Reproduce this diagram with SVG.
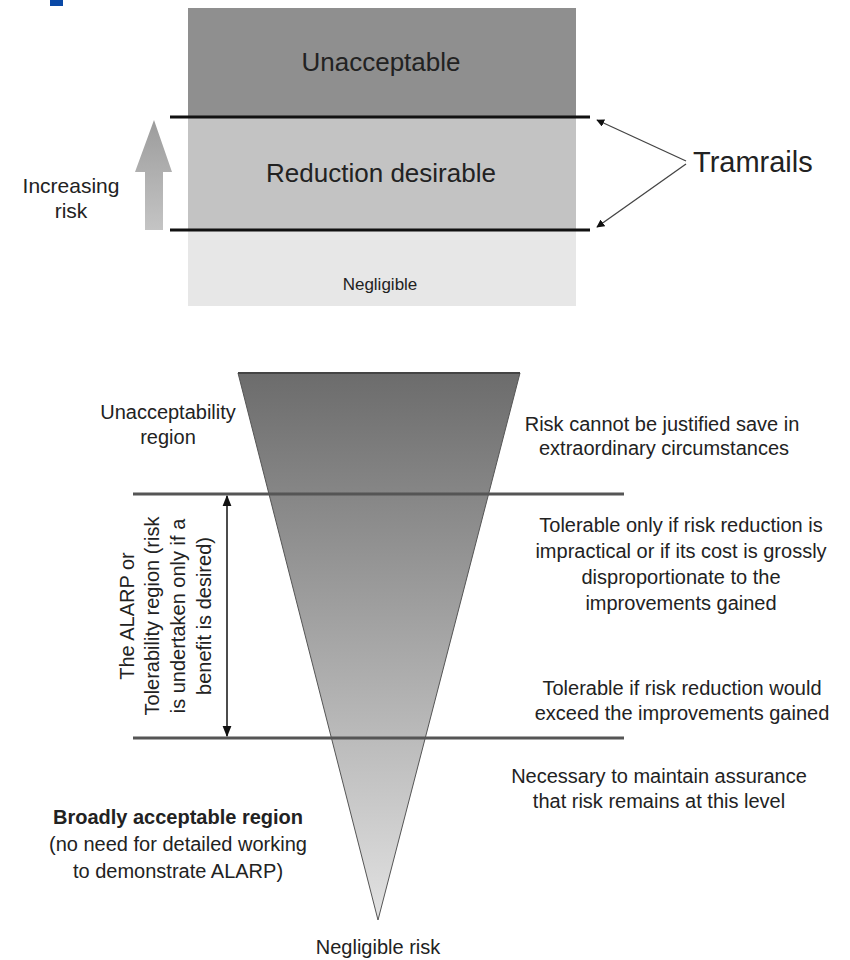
<svg xmlns="http://www.w3.org/2000/svg" width="850" height="960" viewBox="0 0 850 960">
<style>
text{font-family:"Liberation Sans",Arial,sans-serif;fill:#222;}
.b{font-size:20px;text-anchor:middle;}
.bb{font-size:20px;text-anchor:middle;font-weight:bold;}
.big{font-size:26px;text-anchor:middle;}
.rail{stroke:#111;stroke-width:3;fill:none;}
.hl{stroke:#555;stroke-width:3;fill:none;}
.conn{stroke:#444;stroke-width:1.3;fill:none;}
</style>
<defs>
<linearGradient id="tri" x1="0" y1="0" x2="0" y2="1">
<stop offset="0" stop-color="#6c6c6c"/>
<stop offset="1" stop-color="#e2e2e2"/>
</linearGradient>
<linearGradient id="arr" x1="0" y1="0" x2="0" y2="1">
<stop offset="0" stop-color="#9c9c9c"/>
<stop offset="1" stop-color="#c4c4c4"/>
</linearGradient>
<marker id="ah" viewBox="0 0 10 10" refX="9" refY="5" markerWidth="8" markerHeight="8" orient="auto-start-reverse" markerUnits="userSpaceOnUse">
<path d="M0,0 L10,5 L0,10 z" fill="#111"/>
</marker>
<marker id="ah2" viewBox="0 0 10 10" refX="9" refY="5" markerWidth="11" markerHeight="11" orient="auto-start-reverse" markerUnits="userSpaceOnUse">
<path d="M0,1 L10,5 L0,9 z" fill="#111"/>
</marker>
</defs>
<rect x="50" y="0" width="13" height="6" fill="#0a49a6"/>
<g id="band-unacceptable">
<rect x="188" y="8" width="388" height="109" fill="#8f8f8f"/>
<text class="big" x="381" y="71">Unacceptable</text>
</g>
<g id="band-reduction">
<rect x="188" y="117" width="388" height="113" fill="#c3c3c3"/>
<text class="big" x="381" y="182">Reduction desirable</text>
</g>
<g id="band-negligible">
<rect x="188" y="230" width="388" height="76" fill="#e7e7e7"/>
<text x="380" y="290" style="font-size:17px;text-anchor:middle;">Negligible</text>
</g>
<g id="increasing-risk">
<path d="M154,120 L172,172 L163,172 L163,230 L145,230 L145,172 L135,172 Z" fill="url(#arr)"/>
<text x="71" y="193" style="font-size:21px;text-anchor:middle;">Increasing</text>
<text x="71" y="218" style="font-size:21px;text-anchor:middle;">risk</text>
</g>
<g id="tramrails-label">
<text x="693" y="172" style="font-size:29px;">Tramrails</text>
</g>
<g id="triangle">
<polygon points="238,373 520,373 378,920" fill="url(#tri)" stroke="#555" stroke-width="1"/>
<line x1="238" y1="373" x2="520" y2="373" stroke="#444" stroke-width="2"/>
</g>
<g id="left-labels">
<text class="b" x="168" y="419">Unacceptability</text>
<text class="b" x="168" y="444">region</text>
<text class="bb" x="178" y="824">Broadly acceptable region</text>
<text class="b" x="178" y="851">(no need for detailed working</text>
<text class="b" x="178" y="878">to demonstrate ALARP)</text>
<text class="b" x="378" y="954">Negligible risk</text>
</g>
<g id="alarp-label">
<text class="b" transform="translate(134,616) rotate(-90)">The ALARP or</text>
<text class="b" transform="translate(159,616) rotate(-90)">Tolerability region (risk</text>
<text class="b" transform="translate(185,616) rotate(-90)">is undertaken only if a</text>
<text class="b" transform="translate(211,616) rotate(-90)">benefit is desired)</text>
</g>
<g id="right-labels">
<text class="b" x="662" y="431">Risk cannot be justified save in</text>
<text class="b" x="664" y="455">extraordinary circumstances</text>
<text class="b" x="681" y="532">Tolerable only if risk reduction is</text>
<text class="b" x="681" y="558">impractical or if its cost is grossly</text>
<text class="b" x="681" y="584">disproportionate to the</text>
<text class="b" x="681" y="610">improvements gained</text>
<text class="b" x="682" y="695">Tolerable if risk reduction would</text>
<text class="b" x="682" y="720">exceed the improvements gained</text>
<text class="b" x="659" y="783">Necessary to maintain assurance</text>
<text class="b" x="659" y="808">that risk remains at this level</text>
</g>
<g id="connectors">
<line class="rail" x1="170" y1="117" x2="590" y2="117"/>
<line class="rail" x1="170" y1="230" x2="590" y2="230"/>
<line class="conn" x1="686" y1="161" x2="597" y2="120" marker-end="url(#ah)"/>
<line class="conn" x1="686" y1="164" x2="597" y2="227" marker-end="url(#ah)"/>
<line class="hl" x1="133" y1="494" x2="624" y2="494"/>
<line class="hl" x1="133" y1="738" x2="624" y2="738"/>
<line x1="227" y1="496" x2="227" y2="736" stroke="#111" stroke-width="1.5" marker-start="url(#ah2)" marker-end="url(#ah2)"/>
</g>
</svg>
